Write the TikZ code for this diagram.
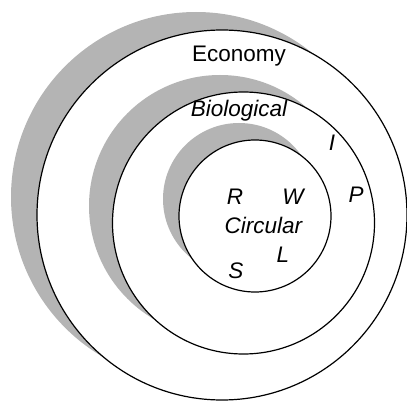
\documentclass[tikz,border=0pt]{standalone}
\usepackage{fontspec}
\setmainfont{Liberation Sans}
\definecolor{shade}{HTML}{B4B4B4}
\begin{document}
\begin{tikzpicture}[x=1pt,y=-1pt,
  ring/.style={circle,draw=black,line width=1.2pt,fill=white,inner sep=0pt,minimum size=#1},
  shadow/.style={circle,fill=shade,inner sep=0pt,minimum size=#1},
  lab/.style={font=\fontsize{22.5}{26}\selectfont,inner sep=0pt},
  ilab/.style={font=\fontsize{22.5}{26}\selectfont\itshape,inner sep=0pt}]
\useasboundingbox (0,0) rectangle (407,401);
\node[shadow=370pt] (s1) at (196,197) {};
\node[ring=370pt] (c1) at (222,215) {};
\node[shadow=262pt] (s2) at (220,206) {};
\node[ring=262pt] (c2) at (243.5,223) {};
\node[shadow=152pt] (s3) at (239,199) {};
\node[ring=152pt] (c3) at (255,216) {};
\node[lab] (eco) at (239,56) {Economy};
\node[ilab] (bio) at (239,111) {Biological};
\node[ilab] (cir) at (263.5,225) {Circular};
\node[ilab] (r) at (235,197) {R};
\node[ilab] (w) at (293,197) {W};
\node[ilab] (l) at (283,255) {L};
\node[ilab] (s) at (236,271) {S};
\node[ilab] (i) at (332,143) {I};
\node[ilab] (p) at (356,195) {P};
\end{tikzpicture}
\end{document}
